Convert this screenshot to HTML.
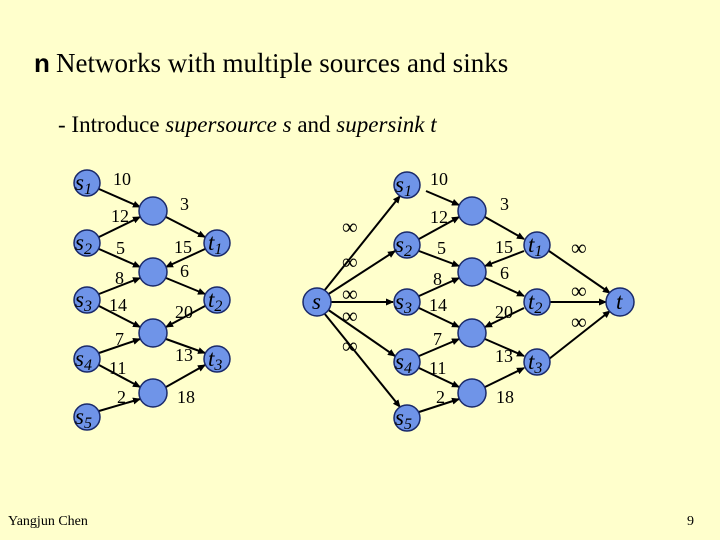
<!DOCTYPE html>
<html><head><style>
html,body{margin:0;padding:0;background:#ffffcc;}
svg{display:block;font-family:"Liberation Serif",serif;}
</style></head><body>
<svg width="720" height="540" viewBox="0 0 720 540" xmlns="http://www.w3.org/2000/svg">
<defs><marker id="a" markerWidth="8" markerHeight="8" refX="7" refY="4" orient="auto" markerUnits="userSpaceOnUse"><path d="M0,0.5 L8,4 L0,7.5z" fill="#000"/></marker></defs>
<rect width="720" height="540" fill="#ffffcc"/>
<text x="34" y="72" font-size="26" font-weight="bold" font-family="Liberation Sans, sans-serif">n</text>
<text x="56" y="72" font-size="27">Networks with multiple sources and sinks</text>
<text x="58" y="132" font-size="23">- Introduce <tspan font-style="italic">supersource s</tspan> and <tspan font-style="italic">supersink t</tspan></text>
<text x="8" y="525" font-size="14">Yangjun Chen</text>
<text x="687" y="525" font-size="14">9</text>
<g stroke="#000" stroke-width="2" marker-end="url(#a)" fill="none">
<line x1="99" y1="189" x2="140" y2="207"/>
<line x1="99" y1="237" x2="140" y2="217"/>
<line x1="99" y1="249" x2="140" y2="267"/>
<line x1="166" y1="217" x2="205" y2="237"/>
<line x1="205" y1="249" x2="166" y2="267"/>
<line x1="166" y1="278" x2="205" y2="294"/>
<line x1="99" y1="294" x2="140" y2="278"/>
<line x1="99" y1="306" x2="140" y2="327"/>
<line x1="205" y1="306" x2="166" y2="327"/>
<line x1="166" y1="339" x2="205" y2="353"/>
<line x1="99" y1="353" x2="140" y2="339"/>
<line x1="99" y1="365" x2="140" y2="387"/>
<line x1="166" y1="387" x2="205" y2="365"/>
<line x1="99" y1="411" x2="140" y2="399"/>
<line x1="426" y1="191" x2="459" y2="205"/>
<line x1="419" y1="239" x2="459" y2="217"/>
<line x1="419" y1="251" x2="459" y2="266"/>
<line x1="485" y1="217" x2="524" y2="239"/>
<line x1="524" y1="251" x2="485" y2="266"/>
<line x1="485" y1="278" x2="524" y2="296"/>
<line x1="419" y1="296" x2="459" y2="278"/>
<line x1="419" y1="308" x2="459" y2="327"/>
<line x1="524" y1="308" x2="485" y2="327"/>
<line x1="485" y1="339" x2="524" y2="356"/>
<line x1="419" y1="356" x2="459" y2="339"/>
<line x1="419" y1="368" x2="459" y2="387"/>
<line x1="485" y1="387" x2="524" y2="368"/>
<line x1="419" y1="412" x2="459" y2="399"/>
<line x1="324" y1="291" x2="400" y2="196"/>
<line x1="327" y1="295" x2="395" y2="251"/>
<line x1="330" y1="302" x2="393" y2="302"/>
<line x1="327" y1="309" x2="395" y2="356"/>
<line x1="324" y1="313" x2="400" y2="407"/>
<line x1="549" y1="251" x2="610" y2="293"/>
<line x1="550" y1="302" x2="606" y2="302"/>
<line x1="549" y1="359" x2="610" y2="311"/>
</g>
<g fill="#6f94e8" stroke="#1a2a6a" stroke-width="1.5">
<circle cx="87" cy="183" r="13"/><circle cx="87" cy="243" r="13"/><circle cx="87" cy="300" r="13"/><circle cx="87" cy="359" r="13"/><circle cx="87" cy="417" r="13"/>
<circle cx="153" cy="211" r="14"/><circle cx="153" cy="272" r="14"/><circle cx="153" cy="333" r="14"/><circle cx="153" cy="393" r="14"/>
<circle cx="217" cy="243" r="13"/><circle cx="217" cy="300" r="13"/><circle cx="217" cy="359" r="13"/>
<circle cx="317" cy="302" r="14"/>
<circle cx="407" cy="185" r="13"/><circle cx="407" cy="245" r="13"/><circle cx="407" cy="302" r="13"/><circle cx="407" cy="362" r="13"/><circle cx="407" cy="418" r="13"/>
<circle cx="472" cy="211" r="14"/><circle cx="472" cy="272" r="14"/><circle cx="472" cy="333" r="14"/><circle cx="472" cy="393" r="14"/>
<circle cx="537" cy="245" r="13"/><circle cx="537" cy="302" r="13"/><circle cx="537" cy="362" r="13"/>
<circle cx="620" cy="302" r="14"/>
</g>
<g font-size="23" font-style="italic" fill="#000">
<text x="75" y="190">s<tspan font-size="16" dy="4">1</tspan></text>
<text x="75" y="250">s<tspan font-size="16" dy="4">2</tspan></text>
<text x="75" y="307">s<tspan font-size="16" dy="4">3</tspan></text>
<text x="75" y="366">s<tspan font-size="16" dy="4">4</tspan></text>
<text x="75" y="424">s<tspan font-size="16" dy="4">5</tspan></text>
<text x="208" y="250">t<tspan font-size="16" dy="4">1</tspan></text>
<text x="208" y="307">t<tspan font-size="16" dy="4">2</tspan></text>
<text x="208" y="366">t<tspan font-size="16" dy="4">3</tspan></text>
<text x="312" y="309">s</text>
<text x="395" y="192">s<tspan font-size="16" dy="4">1</tspan></text>
<text x="395" y="252">s<tspan font-size="16" dy="4">2</tspan></text>
<text x="395" y="309">s<tspan font-size="16" dy="4">3</tspan></text>
<text x="395" y="369">s<tspan font-size="16" dy="4">4</tspan></text>
<text x="395" y="425">s<tspan font-size="16" dy="4">5</tspan></text>
<text x="528" y="252">t<tspan font-size="16" dy="4">1</tspan></text>
<text x="528" y="309">t<tspan font-size="16" dy="4">2</tspan></text>
<text x="528" y="369">t<tspan font-size="16" dy="4">3</tspan></text>
<text x="616" y="309">t</text>
</g>
<g font-size="18" fill="#000">
<text x="113" y="185">10</text><text x="180" y="210">3</text><text x="111" y="222">12</text><text x="116" y="254">5</text>
<text x="174" y="253">15</text><text x="180" y="277">6</text><text x="115" y="284">8</text><text x="109" y="311">14</text>
<text x="175" y="318">20</text><text x="115" y="345">7</text><text x="175" y="361">13</text><text x="109" y="374">11</text>
<text x="117" y="403">2</text><text x="177" y="403">18</text>
<text x="430" y="185">10</text><text x="500" y="210">3</text><text x="430" y="223">12</text><text x="437" y="254">5</text>
<text x="495" y="253">15</text><text x="500" y="279">6</text><text x="433" y="285">8</text><text x="429" y="311">14</text>
<text x="495" y="318">20</text><text x="433" y="345">7</text><text x="495" y="362">13</text><text x="429" y="374">11</text>
<text x="436" y="403">2</text><text x="496" y="403">18</text>
</g>
<g font-size="22" fill="#000">
<text x="342" y="234">∞</text><text x="342" y="269">∞</text><text x="342" y="301">∞</text><text x="342" y="323">∞</text><text x="342" y="353">∞</text>
<text x="571" y="255">∞</text><text x="571" y="298">∞</text><text x="571" y="329">∞</text>
</g>
</svg>
</body></html>
